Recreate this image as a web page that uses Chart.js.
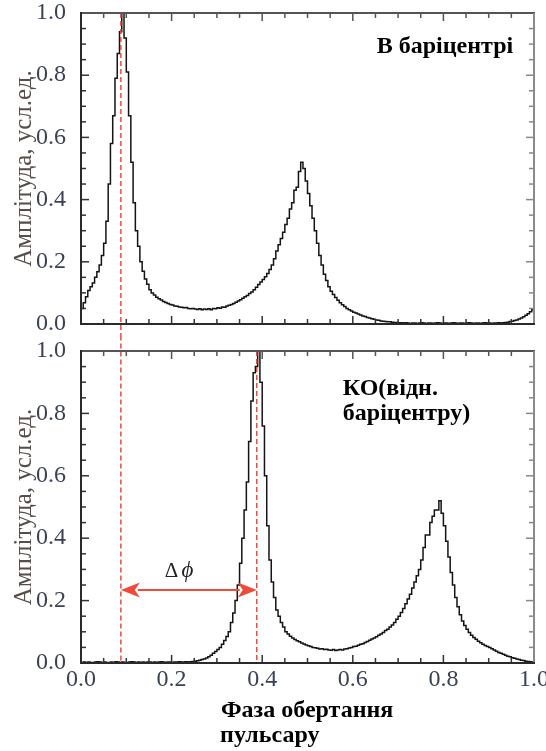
<!DOCTYPE html>
<html>
<head>
<meta charset="utf-8">
<script src="https://cdn.jsdelivr.net/npm/chart.js@4.4.0/dist/chart.umd.min.js"></script>
<style>
  html, body { margin: 0; padding: 0; background: #fff; }
  #wrap { position: relative; width: 546px; height: 751px; overflow: hidden; }
  .box { position: absolute; left: 0; width: 546px; }
  #topBox { top: 0; height: 338px; }
  #botBox { top: 338px; height: 413px; }
</style>
</head>
<body>
<div id="wrap">
  <div class="box" id="topBox"><canvas id="baryChart"></canvas></div>
  <div class="box" id="botBox"><canvas id="obsChart"></canvas></div>
</div>
<script>
// Pulse profiles: phase bin centres (bin width 0.005)
const phase = [
  0.0025, 0.0075, 0.0125, 0.0175, 0.0225, 0.0275, 0.0325, 0.0375, 0.0425, 0.0475,
  0.0525, 0.0575, 0.0625, 0.0675, 0.0725, 0.0775, 0.0825, 0.0875, 0.0925, 0.0975,
  0.1025, 0.1075, 0.1125, 0.1175, 0.1225, 0.1275, 0.1325, 0.1375, 0.1425, 0.1475,
  0.1525, 0.1575, 0.1625, 0.1675, 0.1725, 0.1775, 0.1825, 0.1875, 0.1925, 0.1975,
  0.2025, 0.2075, 0.2125, 0.2175, 0.2225, 0.2275, 0.2325, 0.2375, 0.2425, 0.2475,
  0.2525, 0.2575, 0.2625, 0.2675, 0.2725, 0.2775, 0.2825, 0.2875, 0.2925, 0.2975,
  0.3025, 0.3075, 0.3125, 0.3175, 0.3225, 0.3275, 0.3325, 0.3375, 0.3425, 0.3475,
  0.3525, 0.3575, 0.3625, 0.3675, 0.3725, 0.3775, 0.3825, 0.3875, 0.3925, 0.3975,
  0.4025, 0.4075, 0.4125, 0.4175, 0.4225, 0.4275, 0.4325, 0.4375, 0.4425, 0.4475,
  0.4525, 0.4575, 0.4625, 0.4675, 0.4725, 0.4775, 0.4825, 0.4875, 0.4925, 0.4975,
  0.5025, 0.5075, 0.5125, 0.5175, 0.5225, 0.5275, 0.5325, 0.5375, 0.5425, 0.5475,
  0.5525, 0.5575, 0.5625, 0.5675, 0.5725, 0.5775, 0.5825, 0.5875, 0.5925, 0.5975,
  0.6025, 0.6075, 0.6125, 0.6175, 0.6225, 0.6275, 0.6325, 0.6375, 0.6425, 0.6475,
  0.6525, 0.6575, 0.6625, 0.6675, 0.6725, 0.6775, 0.6825, 0.6875, 0.6925, 0.6975,
  0.7025, 0.7075, 0.7125, 0.7175, 0.7225, 0.7275, 0.7325, 0.7375, 0.7425, 0.7475,
  0.7525, 0.7575, 0.7625, 0.7675, 0.7725, 0.7775, 0.7825, 0.7875, 0.7925, 0.7975,
  0.8025, 0.8075, 0.8125, 0.8175, 0.8225, 0.8275, 0.8325, 0.8375, 0.8425, 0.8475,
  0.8525, 0.8575, 0.8625, 0.8675, 0.8725, 0.8775, 0.8825, 0.8875, 0.8925, 0.8975,
  0.9025, 0.9075, 0.9125, 0.9175, 0.9225, 0.9275, 0.9325, 0.9375, 0.9425, 0.9475,
  0.9525, 0.9575, 0.9625, 0.9675, 0.9725, 0.9775, 0.9825, 0.9875, 0.9925, 0.9975
];

// profile referred to the solar system barycentre
const baryFlux = [
  0.050, 0.068, 0.088, 0.108, 0.120, 0.132, 0.150, 0.168, 0.190, 0.220,
  0.260, 0.330, 0.450, 0.580, 0.670, 0.790, 0.870, 0.940, 1.000, 0.920,
  0.810, 0.670, 0.520, 0.390, 0.300, 0.250, 0.200, 0.170, 0.145, 0.128,
  0.110, 0.100, 0.093, 0.086, 0.081, 0.077, 0.072, 0.069, 0.066, 0.063,
  0.061, 0.058, 0.057, 0.055, 0.054, 0.052, 0.053, 0.050, 0.049, 0.050,
  0.048, 0.047, 0.049, 0.046, 0.048, 0.047, 0.049, 0.046, 0.050, 0.049,
  0.052, 0.051, 0.055, 0.054, 0.058, 0.060, 0.063, 0.066, 0.070, 0.074,
  0.078, 0.083, 0.088, 0.092, 0.098, 0.103, 0.110, 0.118, 0.127, 0.135,
  0.143, 0.152, 0.162, 0.175, 0.190, 0.210, 0.235, 0.255, 0.275, 0.295,
  0.320, 0.340, 0.370, 0.390, 0.430, 0.440, 0.490, 0.520, 0.500, 0.460,
  0.420, 0.380, 0.340, 0.300, 0.260, 0.220, 0.190, 0.160, 0.140, 0.120,
  0.105, 0.095, 0.085, 0.076, 0.068, 0.062, 0.056, 0.050, 0.046, 0.042,
  0.038, 0.035, 0.032, 0.029, 0.026, 0.024, 0.021, 0.019, 0.017, 0.015,
  0.013, 0.012, 0.010, 0.009, 0.008, 0.007, 0.007, 0.006, 0.005, 0.005,
  0.004, 0.004, 0.003, 0.004, 0.003, 0.002, 0.003, 0.003, 0.002, 0.003,
  0.004, 0.003, 0.002, 0.003, 0.003, 0.002, 0.003, 0.004, 0.003, 0.002,
  0.003, 0.003, 0.002, 0.003, 0.004, 0.003, 0.002, 0.003, 0.003, 0.002,
  0.003, 0.004, 0.003, 0.002, 0.003, 0.003, 0.002, 0.003, 0.004, 0.003,
  0.003, 0.002, 0.003, 0.003, 0.004, 0.003, 0.004, 0.005, 0.006, 0.008,
  0.009, 0.011, 0.013, 0.016, 0.019, 0.023, 0.028, 0.033, 0.039, 0.046
];

// same pulsar as seen from the observatory
const obsFlux = [
  0.002, 0.003, 0.002, 0.003, 0.002, 0.002, 0.003, 0.004, 0.003, 0.002,
  0.003, 0.002, 0.002, 0.003, 0.002, 0.004, 0.003, 0.002, 0.003, 0.002,
  0.002, 0.003, 0.004, 0.003, 0.002, 0.003, 0.002, 0.003, 0.002, 0.003,
  0.003, 0.002, 0.003, 0.002, 0.003, 0.004, 0.003, 0.002, 0.003, 0.003,
  0.002, 0.003, 0.003, 0.004, 0.003, 0.003, 0.004, 0.003, 0.004, 0.005,
  0.006, 0.007, 0.009, 0.011, 0.013, 0.016, 0.020, 0.025, 0.031, 0.037,
  0.043, 0.050, 0.060, 0.072, 0.085, 0.100, 0.130, 0.160, 0.200, 0.250,
  0.320, 0.400, 0.490, 0.580, 0.710, 0.840, 0.930, 0.950, 1.000, 0.900,
  0.760, 0.600, 0.440, 0.330, 0.260, 0.210, 0.170, 0.150, 0.130, 0.115,
  0.100, 0.093, 0.086, 0.080, 0.075, 0.071, 0.068, 0.064, 0.061, 0.058,
  0.055, 0.053, 0.050, 0.049, 0.047, 0.045, 0.046, 0.043, 0.044, 0.042,
  0.041, 0.043, 0.040, 0.042, 0.043, 0.042, 0.045, 0.046, 0.048, 0.050,
  0.053, 0.054, 0.057, 0.060, 0.062, 0.066, 0.069, 0.073, 0.077, 0.080,
  0.084, 0.089, 0.093, 0.098, 0.104, 0.108, 0.115, 0.122, 0.130, 0.140,
  0.150, 0.162, 0.175, 0.190, 0.205, 0.220, 0.240, 0.260, 0.280, 0.300,
  0.330, 0.370, 0.410, 0.410, 0.450, 0.470, 0.490, 0.490, 0.520, 0.480,
  0.440, 0.390, 0.340, 0.290, 0.250, 0.210, 0.180, 0.155, 0.135, 0.120,
  0.108, 0.098, 0.089, 0.082, 0.076, 0.070, 0.065, 0.060, 0.056, 0.053,
  0.050, 0.046, 0.042, 0.038, 0.034, 0.031, 0.028, 0.025, 0.022, 0.020,
  0.017, 0.015, 0.013, 0.011, 0.009, 0.008, 0.006, 0.005, 0.004, 0.003
];

const majorTicks = [0, 0.2, 0.4, 0.6, 0.8, 1.0];
const minorTicks = [0.05, 0.1, 0.15, 0.25, 0.3, 0.35, 0.45, 0.5, 0.55, 0.65, 0.7, 0.75, 0.85, 0.9, 0.95];

// main pulse phase in each frame, and the level of the Δφ arrow
const baryPeak = 0.088;
const obsPeak = 0.388;
const arrowLevel = 0.234;

const SERIF = '"Liberation Serif", "Times New Roman", serif';
const tickColor = '#3b4256';
const titleColor = '#574d49';
const red = '#ef4a3c';

function toPoints(values) {
  return values.map((v, i) => ({ x: phase[i], y: v }));
}

// box round the plot with inward tick marks on all four sides
const framePlugin = {
  id: 'frame',
  afterDatasetsDraw(chart) {
    const { ctx, chartArea: a, scales: { x, y } } = chart;
    ctx.save();
    ctx.lineCap = 'butt';
    const seg = (x0, y0, x1, y1, color, w) => {
      ctx.strokeStyle = color;
      ctx.lineWidth = w;
      ctx.beginPath();
      ctx.moveTo(x0, y0);
      ctx.lineTo(x1, y1);
      ctx.stroke();
    };
    const ticks = majorTicks.map(v => [v, 8]).concat(minorTicks.map(v => [v, 5]));
    ticks.forEach(([v, len]) => {
      if (v === 0 || v === 1) return;
      const px = x.getPixelForValue(v);
      const py = y.getPixelForValue(v);
      seg(px, a.bottom, px, a.bottom - len, '#333', 1.5);
      seg(px, a.top, px, a.top + len, '#555', 1.5);
      seg(a.left, py, a.left + len, py, '#333', 1.5);
      seg(a.right, py, a.right - len, py, '#888', 1.5);
    });
    seg(a.left - 1, a.top, a.right + 1, a.top, '#555', 2);
    seg(a.right, a.top, a.right, a.bottom, '#8a8a8a', 2);
    seg(a.left, a.top - 1, a.left, a.bottom + 1, '#2a2a2a', 2);
    seg(a.left - 1, a.bottom, a.right + 1, a.bottom, '#2a2a2a', 2);
    ctx.restore();
  }
};

// captions and the Δφ arrow, placed in data coordinates
const notesPlugin = {
  id: 'notes',
  afterDraw(chart, args, opts) {
    const { ctx, scales: { x, y } } = chart;
    ctx.save();
    (opts.texts || []).forEach(t => {
      ctx.font = t.font;
      ctx.fillStyle = t.color || '#000';
      ctx.textAlign = t.align || 'left';
      ctx.textBaseline = 'alphabetic';
      ctx.fillText(t.text, x.getPixelForValue(t.x), y.getPixelForValue(t.y));
    });
    const ar = opts.arrow;
    if (ar) {
      const x0 = x.getPixelForValue(ar.from);
      const x1 = x.getPixelForValue(ar.to);
      const yy = y.getPixelForValue(ar.level);
      const head = 19, half = 7.5;
      ctx.strokeStyle = ar.color;
      ctx.fillStyle = ar.color;
      ctx.lineWidth = 2;
      ctx.beginPath();
      ctx.moveTo(x0 + head - 2, yy);
      ctx.lineTo(x1 - head + 2, yy);
      ctx.stroke();
      ctx.beginPath();
      ctx.moveTo(x0, yy);
      ctx.lineTo(x0 + head, yy - half);
      ctx.lineTo(x0 + head - 5, yy);
      ctx.lineTo(x0 + head, yy + half);
      ctx.closePath();
      ctx.fill();
      ctx.beginPath();
      ctx.moveTo(x1, yy);
      ctx.lineTo(x1 - head, yy - half);
      ctx.lineTo(x1 - head + 5, yy);
      ctx.lineTo(x1 - head, yy + half);
      ctx.closePath();
      ctx.fill();
    }
    ctx.restore();
  }
};

function profileDataset(values) {
  return {
    data: toPoints(values),
    stepped: 'middle',
    borderColor: '#141414',
    borderWidth: 1.5,
    pointRadius: 0,
    fill: false,
    order: 1
  };
}

function markerDataset(xv, yTop, yBottom) {
  return {
    data: [{ x: xv, y: yTop }, { x: xv, y: yBottom }],
    borderColor: red,
    borderWidth: 1.5,
    borderDash: [5, 3],
    pointRadius: 0,
    clip: false,
    order: 0
  };
}

function yScale() {
  return {
    type: 'linear',
    min: 0,
    max: 1,
    afterBuildTicks: s => { s.ticks = majorTicks.map(v => ({ value: v })); },
    ticks: {
      callback: v => v.toFixed(1),
      font: { family: SERIF, size: 24 },
      color: tickColor,
      padding: 7
    },
    grid: { display: false },
    border: { display: false },
    title: {
      display: true,
      text: 'Амплітуда, усл.ед.',
      font: { family: SERIF, size: 25 },
      color: titleColor,
      padding: { top: 9, bottom: 0 }
    },
    afterFit: s => { s.width = 81; s.paddingTop = 0; s.paddingBottom = 0; }
  };
}

function baseOptions() {
  return {
    responsive: true,
    maintainAspectRatio: false,
    animation: false,
    events: [],
    plugins: { legend: { display: false }, tooltip: { enabled: false } }
  };
}

const topOptions = baseOptions();
topOptions.layout = { padding: { top: 13, right: 12, bottom: 14, left: 0 } };
topOptions.scales = {
  x: { type: 'linear', min: 0, max: 1, display: false },
  y: yScale()
};
topOptions.plugins.notes = {
  texts: [
    { text: 'В баріцентрі', x: 0.954, y: 0.871, align: 'right', font: 'bold 24px ' + SERIF }
  ]
};

new Chart(document.getElementById('baryChart'), {
  type: 'line',
  data: {
    datasets: [
      profileDataset(baryFlux),
      markerDataset(baryPeak, 1.0, -0.06)
    ]
  },
  options: topOptions,
  plugins: [framePlugin, notesPlugin]
});

const botOptions = baseOptions();
botOptions.layout = { padding: { top: 13, right: 12, bottom: 0, left: 0 } };
botOptions.scales = {
  x: {
    type: 'linear',
    min: 0,
    max: 1,
    afterBuildTicks: s => { s.ticks = majorTicks.map(v => ({ value: v })); },
    ticks: {
      callback: v => v.toFixed(1),
      font: { family: SERIF, size: 24 },
      color: tickColor,
      padding: -6,
      maxRotation: 0
    },
    grid: { display: false },
    border: { display: false },
    afterFit: s => { s.height = 88; s.paddingLeft = 0; s.paddingRight = 0; }
  },
  y: yScale()
};
botOptions.plugins.notes = {
  texts: [
    { text: 'КО(відн.', x: 0.578, y: 0.86, font: 'bold 24px ' + SERIF },
    { text: 'баріцентру)', x: 0.578, y: 0.78, font: 'bold 24px ' + SERIF },
    { text: 'Δ', x: 0.185, y: 0.276, font: '21px ' + SERIF, color: '#222' },
    { text: 'ϕ', x: 0.222, y: 0.276, font: 'italic 23px ' + SERIF, color: '#222' },
    { text: 'Фаза обертання', x: 0.309, y: -0.173, font: 'bold 24px ' + SERIF },
    { text: 'пульсару', x: 0.307, y: -0.253, font: 'bold 24px ' + SERIF }
  ],
  arrow: { from: baryPeak, to: obsPeak, level: arrowLevel, color: red }
};

new Chart(document.getElementById('obsChart'), {
  type: 'line',
  data: {
    datasets: [
      profileDataset(obsFlux),
      markerDataset(baryPeak, 1.05, 0),
      markerDataset(obsPeak, 1.0, 0)
    ]
  },
  options: botOptions,
  plugins: [framePlugin, notesPlugin]
});
</script>
</body>
</html>
